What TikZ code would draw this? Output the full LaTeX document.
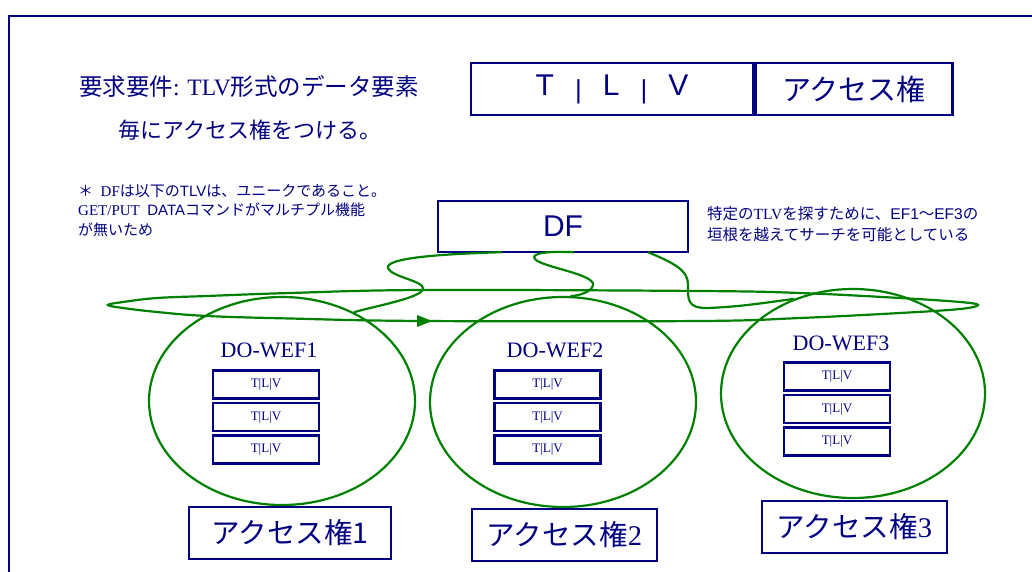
\documentclass[tikz,border=0pt]{standalone}
\usepackage{fontspec}
\setmainfont{Liberation Serif}
\setsansfont{Liberation Sans}
\newfontfamily\jp{Noto Sans CJK JP}
\usetikzlibrary{calc,shapes.geometric}
\definecolor{navyc}{RGB}{0,0,128}
\definecolor{greenc}{RGB}{0,128,0}
\begin{document}
\begin{tikzpicture}[x=1pt,y=-1pt,
  box/.style={draw=navyc, line width=2.4pt, inner sep=0pt, text=navyc},
  tlvbox/.style={box, line width=2.2pt, minimum width=106pt, minimum height=28pt, font=\fontsize{13}{13}\selectfont},
  accbox/.style={box, minimum height=52pt, font=\jp\fontsize{28.5}{28.5}\selectfont},
  dom/.style={draw=greenc, line width=2.2pt, ellipse, inner sep=0pt},
  lp/.style={draw=greenc, line width=2.2pt},
  txt/.style={text=navyc, inner sep=0pt},
  lbl/.style={txt, font=\fontsize{22}{22}\selectfont}]
\useasboundingbox (0,0) rectangle (1032,572);
\draw[navyc, line width=2.5pt] (9,572) -- (9,16) -- (1032,16);

% title
\node[txt] (t1) at (249,87) {\fontsize{23.5}{23.5}\selectfont{\jp 要求要件}: TLV{\jp 形式のデータ要素}};
\node[txt] (t2) at (250,130) {\jp\fontsize{22}{22}\selectfont 毎にアクセス権をつける。};

% top box
\node[box, minimum width=282pt, minimum height=52pt] (tlv) at (612,89)
  {\sffamily\fontsize{30}{30}\selectfont T\hspace{21pt}\raisebox{-3pt}{\fontsize{26}{26}\selectfont|}\hspace{21pt}L\hspace{21pt}\raisebox{-3pt}{\fontsize{26}{26}\selectfont|}\hspace{21pt}V};
\node[box, minimum width=197pt, minimum height=52pt, anchor=west] (acc) at (tlv.east)
  {\jp\fontsize{29}{29}\selectfont アクセス権};

% notes
\node[txt, align=left, anchor=north west, font=\fontsize{15}{19.5}\selectfont] (n1) at (78,184)
  {{\jp ＊}\ \ DF{\jp は以下の}\textsf{TLV}{\jp は、ユニークであること。}\\
   GET/PUT\ \ \textsf{DATA}{\jp コマンドがマルチプル機能}\\
   {\jp が無いため}};
\node[txt, align=left, anchor=north west, font=\fontsize{15.5}{21}\selectfont] (n2) at (707,206)
  {{\jp 特定の}TLV{\jp を探すために、}\textsf{EF1}{\jp ～}\textsf{EF3}{\jp の}\\
   {\jp 垣根を越えてサーチを可能としている}};

% DF
\node[box, minimum width=250pt, minimum height=51pt] (df) at (563,226.5)
  {\sffamily\fontsize{30}{30}\selectfont DF};

% domains
\node[dom, minimum width=266pt, minimum height=208pt] (e1) at (282,401) {};
\node[dom, minimum width=266pt, minimum height=210pt] (e2) at (563,402) {};
\node[dom, minimum width=264pt, minimum height=209pt] (e3) at (853,393.5) {};

\node[lbl] (w1) at (269,350) {DO-WEF1};
\node[lbl] (w2) at (555,350) {DO-WEF2};
\node[lbl] (w3) at (841,343) {DO-WEF3};

\node[tlvbox] (a11) at (266,384.5) {T|L|V};
\node[tlvbox] (a12) at (266,417) {T|L|V};
\node[tlvbox] (a13) at (266,449.5) {T|L|V};
\node[tlvbox] (a21) at (547.5,384.5) {T|L|V};
\node[tlvbox] (a22) at (547.5,417) {T|L|V};
\node[tlvbox] (a23) at (547.5,449.5) {T|L|V};
\node[tlvbox] (a31) at (837,376.5) {T|L|V};
\node[tlvbox] (a32) at (837,409) {T|L|V};
\node[tlvbox] (a33) at (837,441.5) {T|L|V};

\node[accbox, minimum width=202pt] (r1) at (290,533) {アクセス権1};
\node[accbox, minimum width=185pt] (r2) at (564.5,535) {アクセス権\rmfamily 2};
\node[accbox, minimum width=185pt] (r3) at (854.5,527) {アクセス権\rmfamily 3};

% search loop
\draw[lp] plot[smooth cycle, tension=0.6] coordinates {(108,305) (123,302) (157,298) (207,296) (290,293) (423,290) (700,291) (800,293) (900,298) (960,302) (978,305) (960,309) (900,313) (800,318) (700,321) (423,321) (290,318.5) (207,316) (157,312) (123,308)};
\coordinate (ah) at (432,321);
\fill[greenc] (ah) -- ++(-15,-6) -- ++(0,12) -- cycle;

% connectors DF -> domains
\draw[lp] ($(df.south west)+(65,-1)$) .. controls (440,254) and (385,258) .. (388,268)
  .. controls (391,277) and (425,281) .. (423,289) .. controls (421,298) and (375,306) .. (e1.51);
\draw[lp] ($(df.south west)+(137,-1)$) .. controls (548,251) and (530,253) .. (535,259)
  .. controls (541,267) and (595,274) .. (593,285) .. controls (592,292) and (578,296) .. (e2.86);
\draw[lp] ($(df.south west)+(211,-1)$) .. controls (672,262) and (688,270) .. (688,284)
  .. controls (688,300) and (687,308) .. (707,308) .. controls (740,307) and (770,302) .. (e3.122);
\end{tikzpicture}
\end{document}
